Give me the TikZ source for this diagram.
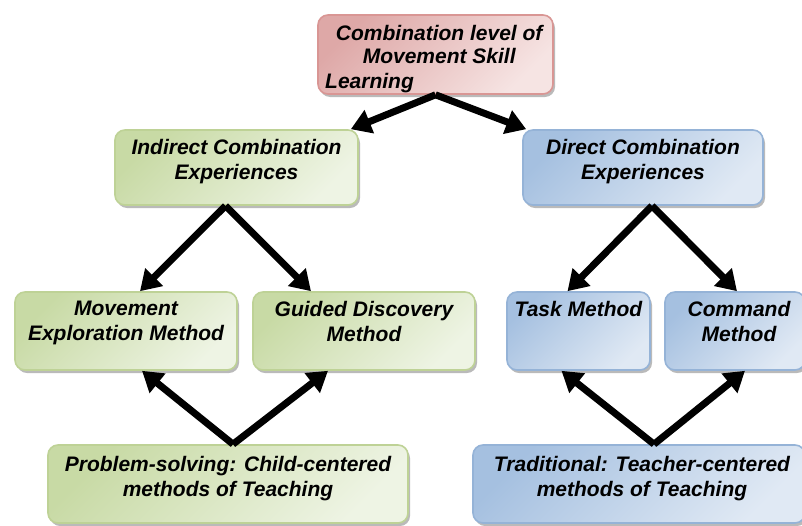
\documentclass[tikz,border=0pt]{standalone}
\usepackage{fontspec}
\setmainfont{Liberation Sans}
\usepackage{tikz}
\usetikzlibrary{calc, positioning, arrows.meta, shadows}
\usepackage{xcolor}
\definecolor{rootDark}{RGB}{222, 168, 167}
\definecolor{rootLight}{RGB}{246, 228, 227}
\definecolor{rootLine}{RGB}{217, 150, 148}
\definecolor{indDark}{RGB}{200, 218, 165}
\definecolor{indLight}{RGB}{238, 244, 228}
\definecolor{indLine}{RGB}{190, 210, 150}
\definecolor{dirDark}{RGB}{165, 192, 224}
\definecolor{dirLight}{RGB}{224, 233, 244}
\definecolor{dirLine}{RGB}{149, 179, 215}

\begin{document}
\begin{tikzpicture}[x=1pt, y=-1pt,
    font=\fontsize{21}{25}\selectfont\bfseries\itshape,
    box/.style={line width=1.6pt, rounded corners=10pt, shading angle=45,
      drop shadow={shadow xshift=2pt, shadow yshift=-3pt, fill=black!45, opacity=0.6}},
    rootbox/.style={top color=rootDark, bottom color=rootLight, draw=rootLine, box},
    indbox/.style={top color=indDark, bottom color=indLight, draw=indLine, box},
    dirbox/.style={top color=dirDark, bottom color=dirLight, draw=dirLine, box},
    boxtext/.style={inner sep=0pt, align=center},
    link/.style={line width=7pt, -{Triangle[length=20pt, width=24pt]}}]
  \useasboundingbox (0,0) rectangle (802,525);

  % Top of the tree
  \node[rootbox, minimum width=235pt, minimum height=79pt] (root) at (435.5,54.5) {};
  \node[boxtext, anchor=north west, text width=228pt, align=none] (rootText) at (325,25)
    {\fontsize{21}{23}\selectfont\parindent=0pt
     {\centering Combination level of\\Movement Skill\par}\raggedright Learning};

  % Second level
  \node[indbox, minimum width=243pt, minimum height=75pt] (indirect) at (236.5,167.5) {};
  \node[dirbox, minimum width=240pt, minimum height=75pt] (direct) at (643,167.5) {};
  \node[boxtext, below=10pt of indirect.north] (indirectText) {Indirect Combination\\Experiences};
  \node[boxtext, below=10pt of direct.north] (directText) {Direct Combination\\Experiences};

  % Teaching methods
  \node[indbox, minimum width=222pt, minimum height=78pt] (explore) at (126,331) {};
  \node[indbox, minimum width=222pt, minimum height=78pt] (guided) at (364,331) {};
  \node[dirbox, minimum width=143pt, minimum height=78pt] (task) at (578.5,331) {};
  \node[dirbox, minimum width=140pt, minimum height=78pt] (command) at (735,331) {};
  \node[boxtext, below=10pt of explore.north] (exploreText) {Movement\\Exploration Method};
  \node[boxtext, below=10pt of guided.north] (guidedText) {Guided Discovery\\Method};
  \node[boxtext, below=10pt of task.north] (taskText) {Task Method};
  \node[boxtext, below=10pt of command.north, xshift=4pt] (commandText) {Command\\Method};

  % Bottom boxes
  \node[indbox, minimum width=360pt, minimum height=78pt] (problem) at (228,484) {};
  \node[dirbox, minimum width=332pt, minimum height=78pt] (traditional) at (639,484) {};
  \node[boxtext, below=12pt of problem.north] (problemText) {Problem-solving: Child-centered\\methods of Teaching};
  \node[boxtext, below=12pt of traditional.north, xshift=3pt] (traditionalText) {Traditional: Teacher-centered\\methods of Teaching};

  % Arrows down from the top
  \draw[link] (root.south) -- ([xshift=-8pt]indirect.north east);
  \draw[link] (root.south) -- ([xshift=4pt]direct.north west);

  \draw[link] ([xshift=-11pt]indirect.south) -- ([xshift=14pt]explore.north);
  \draw[link] ([xshift=-11pt]indirect.south) -- ([xshift=-53pt]guided.north);
  \draw[link] ([xshift=9pt]direct.south) -- ([xshift=-11pt]task.north);
  \draw[link] ([xshift=9pt]direct.south) -- ([xshift=2pt]command.north);

  % Arrows up from the bottom
  \draw[link] ([xshift=5pt]problem.north) -- ([xshift=16pt]explore.south);
  \draw[link] ([xshift=5pt]problem.north) -- ([xshift=-36pt]guided.south);
  \draw[link] ([xshift=15pt]traditional.north) -- ([xshift=-17pt]task.south);
  \draw[link] ([xshift=15pt]traditional.north) -- ([xshift=10pt]command.south);
\end{tikzpicture}
\end{document}
